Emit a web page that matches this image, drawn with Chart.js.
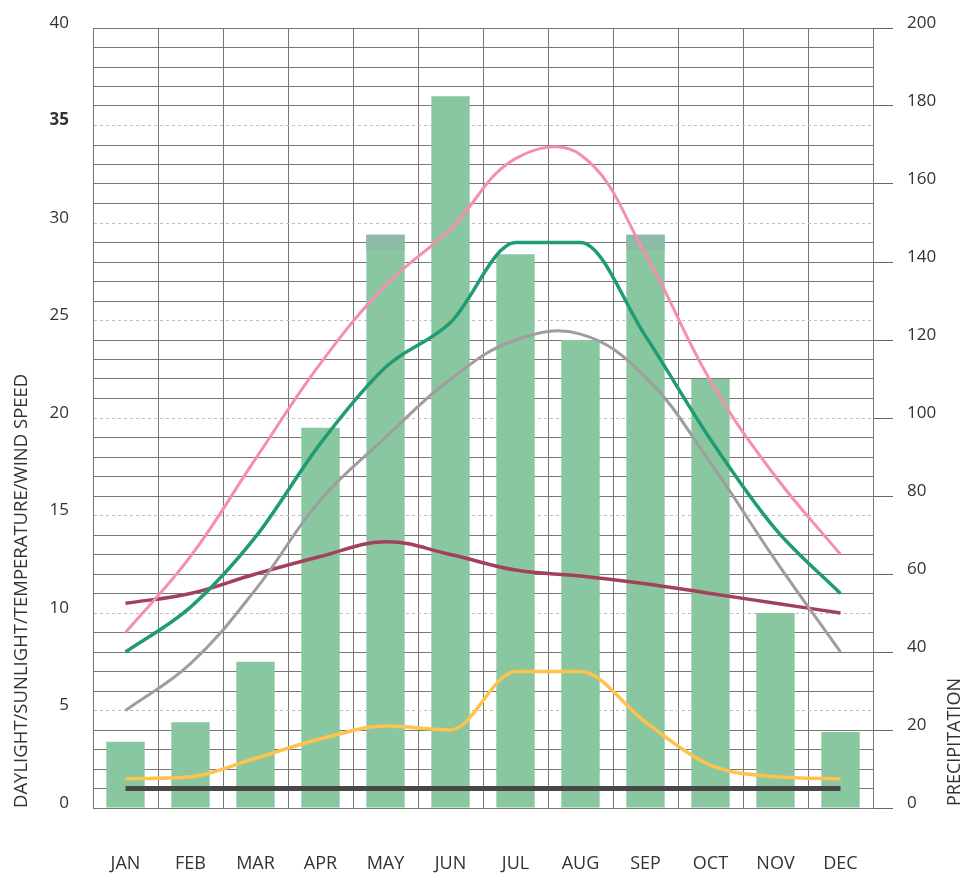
<!DOCTYPE html>
<html>
<head>
<meta charset="utf-8">
<script src="https://cdn.jsdelivr.net/npm/chart.js@4.4.1/dist/chart.umd.min.js"></script>
<style>
  html, body { margin: 0; padding: 0; background: #fff; }
</style>
</head>
<body>
<canvas id="climate-chart" width="966" height="876"></canvas>
<script>
// monthly values
const months = ['JAN', 'FEB', 'MAR', 'APR', 'MAY', 'JUN', 'JUL', 'AUG', 'SEP', 'OCT', 'NOV', 'DEC'];
const precipitation = [17, 22, 37.5, 97.5, 147, 182.5, 142, 120, 147, 110, 50, 19.5];
const precipTopBand = [null, null, null, null, [143, 147], null, null, null, [143, 147], null, null, null];
const daylight = [9.0, 12.9, 17.9, 22.8, 26.8, 29.7, 33.3, 33.5, 28.4, 21.9, 17.0, 13.0];
const sunlight = [8.0, 10.3, 13.9, 18.7, 22.6, 24.9, 29.0, 29.0, 24.2, 18.9, 14.3, 11.0];
const temperature = [5.0, 7.4, 11.2, 15.8, 19.0, 22.0, 24.0, 24.3, 22.1, 17.7, 12.7, 8.0];
const windSpeed = [10.5, 11.0, 12.0, 12.9, 13.65, 13.0, 12.2, 11.9, 11.5, 11.0, 10.5, 10.0];
const yellowSeries = [1.5, 1.6, 2.55, 3.55, 4.2, 4.0, 7.0, 7.0, 4.4, 2.2, 1.6, 1.5];
const baseline = [1, 1, 1, 1, 1, 1, 1, 1, 1, 1, 1, 1];

const FONT = '"Open Sans", "Noto Sans", sans-serif';
const TEXT = '#333';

const isMajor = v => v % 5 === 0 && v !== 0 && v !== 40;

// right axis title reads bottom-to-top like the left one
const rightTitle = {
    id: 'rightTitle',
    afterDraw(chart) {
        const { ctx, chartArea } = chart;
        ctx.save();
        ctx.translate(955, chartArea.bottom - 2);
        ctx.rotate(-Math.PI / 2);
        ctx.font = '18px ' + FONT;
        ctx.fillStyle = TEXT;
        ctx.textAlign = 'left';
        ctx.textBaseline = 'middle';
        ctx.fillText('PRECIPITATION', 0, 0);
        ctx.restore();
    }
};

const line = (data, color, extra) => Object.assign({
    type: 'line', data, yAxisID: 'y', borderColor: color, borderWidth: 3,
    pointRadius: 0, fill: false, tension: 0.4, order: 2
}, extra || {});

// fixed axis sizes so the plot area sits where the original one does
const fixWidth = w => s => { s.width = w; s.paddingTop = 0; s.paddingBottom = 0; };

new Chart(document.getElementById('climate-chart').getContext('2d'), {
    type: 'bar',
    data: {
        labels: months,
        datasets: [
            line(daylight, '#f58fae'),
            line(sunlight, '#1f9c74', { cubicInterpolationMode: 'monotone', borderWidth: 3.5 }),
            line(temperature, '#a09ca0'),
            line(windSpeed, '#a3405c', { borderWidth: 3.5 }),
            line(yellowSeries, '#ffc24a', { cubicInterpolationMode: 'monotone', borderWidth: 3.5 }),
            line(baseline, '#474747', { borderWidth: 5, tension: 0, order: 1 }),
            { type: 'bar', data: precipTopBand, yAxisID: 'y2', backgroundColor: '#8cbba8',
              barPercentage: 0.59, categoryPercentage: 1, grouped: false, order: 9 },
            { type: 'bar', data: precipitation, yAxisID: 'y2', backgroundColor: '#88c7a0',
              barPercentage: 0.59, categoryPercentage: 1, grouped: false, order: 10 }
        ]
    },
    options: {
        responsive: false,
        animation: false,
        layout: { padding: { top: 28, left: 0, right: 0, bottom: 0 } },
        plugins: { legend: { display: false }, tooltip: { enabled: false } },
        scales: {
            x: {
                grid: { color: '#777', lineWidth: 1, drawTicks: false, offset: true },
                border: { color: '#777' },
                ticks: { padding: 45, color: TEXT, font: { size: 18, family: FONT } },
                afterFit: s => { s.height = 68; }
            },
            y: {
                position: 'left', min: 0, max: 40,
                ticks: {
                    stepSize: 1, autoSkip: false, padding: 24, labelOffset: -5, color: TEXT,
                    callback: v => (v % 5 === 0 ? v : ''),
                    font: c => ({ size: 17, family: FONT, weight: c.tick && c.tick.value === 35 ? 'bold' : 'normal' })
                },
                grid: {
                    drawTicks: false, lineWidth: 1,
                    color: c => (c.tick && isMajor(c.tick.value) ? '#bdbdbd' : '#777')
                },
                border: {
                    color: '#777',
                    dash: c => (c.tick && isMajor(c.tick.value) ? [3, 3] : [])
                },
                title: {
                    display: true, text: 'DAYLIGHT/SUNLIGHT/TEMPERATURE/WIND SPEED', align: 'start',
                    color: TEXT, font: { size: 18.5, family: FONT }, padding: { top: 11, bottom: 0 }
                },
                afterFit: fixWidth(93)
            },
            y2: {
                position: 'right', min: 0, max: 200,
                ticks: { stepSize: 20, padding: 14, labelOffset: -5, color: TEXT, font: { size: 17, family: FONT } },
                grid: { drawOnChartArea: false, drawTicks: true, tickLength: 20, color: '#666' },
                border: { color: '#777' },
                afterFit: fixWidth(93)
            }
        }
    },
    plugins: [rightTitle]
});
</script>
</body>
</html>
